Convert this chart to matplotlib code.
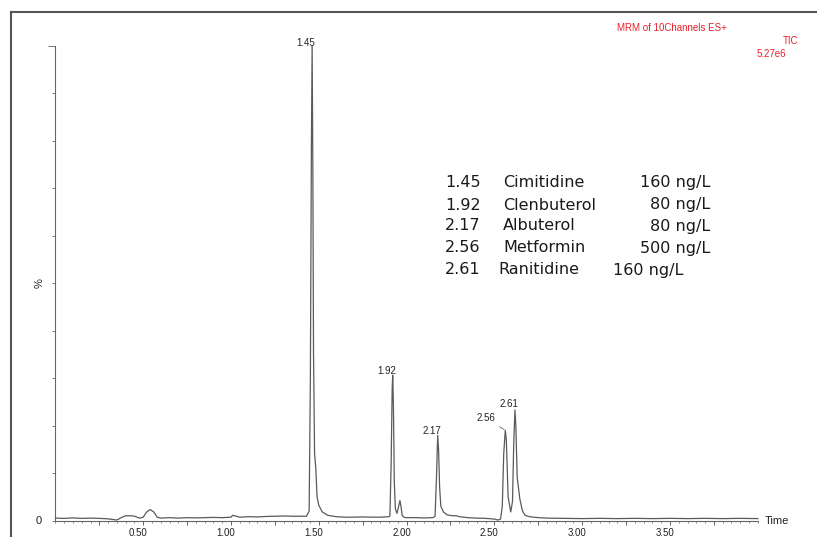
import matplotlib
matplotlib.use("Agg")
import matplotlib.pyplot as plt
import matplotlib.transforms as mtransforms
from matplotlib.lines import Line2D
from matplotlib.ticker import FixedLocator, MultipleLocator

# --- chromatogram trace (time in min, intensity in %) ---
time_min = [
    0.00, 0.05, 0.10, 0.15, 0.20, 0.25, 0.30, 0.35, 0.38, 0.40, 0.43, 0.45,
    0.48, 0.50, 0.52, 0.54, 0.56, 0.58, 0.60, 0.65, 0.70, 0.75, 0.80, 0.85,
    0.90, 0.95, 1.00, 1.01, 1.03, 1.05, 1.10, 1.15, 1.20, 1.25, 1.30, 1.35,
    1.40, 1.43, 1.445, 1.452, 1.458, 1.462, 1.466, 1.470, 1.476, 1.483, 1.49,
    1.50, 1.52, 1.55, 1.60, 1.65, 1.70, 1.75, 1.80, 1.85, 1.90, 1.905, 1.912,
    1.918, 1.921, 1.925, 1.930, 1.936, 1.945, 1.955, 1.962, 1.968, 1.975,
    1.99, 2.05, 2.10, 2.15, 2.162, 2.170, 2.177, 2.182, 2.188, 2.195, 2.21,
    2.23, 2.26, 2.285, 2.30, 2.35, 2.40, 2.45, 2.50, 2.52, 2.535, 2.545,
    2.553, 2.562, 2.568, 2.578, 2.593, 2.603, 2.610, 2.617, 2.622, 2.630,
    2.645, 2.66, 2.675, 2.70, 2.75, 2.80, 2.90, 3.00, 3.10, 3.20, 3.30, 3.40,
    3.50, 3.60, 3.70, 3.80, 3.90, 4.00,
]
intensity_pct = [
    0.5, 0.45, 0.55, 0.45, 0.5, 0.45, 0.35, 0.1, 0.7, 1.0, 1.0, 0.9,
    0.5, 0.7, 1.8, 2.3, 1.8, 0.7, 0.5, 0.6, 0.5, 0.6, 0.55, 0.6,
    0.65, 0.6, 0.7, 1.1, 0.9, 0.7, 0.8, 0.75, 0.85, 0.9, 0.95, 0.9,
    0.9, 0.9, 2.0, 30, 80, 100, 75, 35, 14, 11, 5,
    3.2, 1.8, 1.1, 0.8, 0.7, 0.7, 0.75, 0.7, 0.7, 0.8, 1.0, 12,
    28, 30.6, 24, 8, 2.5, 1.5, 3.0, 4.2, 3.0, 1.0,
    0.6, 0.6, 0.55, 0.6, 0.9, 9, 17.9, 15, 7, 3, 1.8,
    1.2, 1.0, 1.0, 0.8, 0.6, 0.5, 0.45, 0.3, 0.1, 0.3, 3,
    14, 19, 17, 5, 1.8, 4, 16, 23.3, 20, 9,
    4.5, 2.0, 1.1, 0.8, 0.6, 0.5, 0.45, 0.4, 0.45, 0.4, 0.45, 0.4,
    0.45, 0.4, 0.45, 0.4, 0.45, 0.4,
]

# --- peak labels ---
peak_rt = [1.462, 1.921, 2.177, 2.562, 2.617]
peak_height = [100, 30.6, 17.9, 19, 23.3]
peak_text = ["1.45", "1.92", "2.17", "2.56", "2.61"]

# --- compound table ---
table_rt = ["1.45", "1.92", "2.17", "2.56", "2.61"]
table_name = ["Cimitidine", "Clenbuterol", "Albuterol", "Metformin", "Ranitidine"]
table_conc = ["160 ng/L", "80 ng/L", "80 ng/L", "500 ng/L", "160 ng/L"]

# --- axis ticks ---
xtick_pos = [0.25, 0.50, 0.75, 1.00, 1.25, 1.50, 1.75, 2.00, 2.25, 2.50,
             2.75, 3.00, 3.25, 3.50, 3.75]
xtick_lab = ["", "0.50", "", "1.00", "", "1.50", "", "2.00", "", "2.50",
             "", "3.00", "", "3.50", ""]

W, H = 817, 537
fig = plt.figure(figsize=(W / 100, H / 100), dpi=100)
fig.patch.set_facecolor("white")

x0, x1 = 55.4, 757.8
y0, y1 = 520.5, 45.7
ax = fig.add_axes([x0 / W, 1 - y0 / H, (x1 - x0) / W, (y0 - y1) / H])

line_col = "#5a5a5a"
ax.plot(time_min, intensity_pct, color=line_col, lw=0.9, clip_on=False)

ax.set_xlim(0, 4.0)
ax.set_ylim(0, 100)
for s in ["top", "right"]:
    ax.spines[s].set_visible(False)
for s in ["left", "bottom"]:
    ax.spines[s].set_color("#666666")
    ax.spines[s].set_linewidth(0.8)

# x ticks
ax.xaxis.set_major_locator(FixedLocator(xtick_pos))
ax.set_xticklabels(xtick_lab)
ax.xaxis.set_minor_locator(MultipleLocator(0.05))
ax.tick_params(axis="x", which="major", direction="out", length=3.0, width=0.7,
               color="#666666", labelsize=7, pad=2.5, labelcolor="#222222")
ax.tick_params(axis="x", which="minor", direction="out", length=1.5, width=0.6,
               color="#777777")
shift = mtransforms.ScaledTranslation(-5 / 100, 0, fig.dpi_scale_trans)
for lab in ax.get_xticklabels():
    lab.set_transform(lab.get_transform() + shift)
    lab.set_fontfamily("Liberation Sans")

# y ticks
ax.set_yticks(list(range(0, 101, 10)))
ax.set_yticklabels(["0"] + [""] * 10)
ax.tick_params(axis="y", direction="out", length=2.5, width=0.7,
               color="#777777", labelsize=8, pad=7, labelcolor="#222222")
ax.yaxis.get_major_ticks()[-1].tick1line.set_markersize(5)
for lab in ax.get_yticklabels():
    lab.set_fontfamily("Liberation Sans")

ax.text(-0.022, 0.5, "%", transform=ax.transAxes, rotation=90, ha="center",
        va="center", fontsize=8, family="Liberation Sans", color="#222222")
ax.text(1.010, 0.0, "Time", transform=ax.transAxes, ha="left", va="center",
        fontsize=8, family="Liberation Sans", color="#222222")

# peak labels (offsets in points)
label_offset = [(-4.3, 2.2), (-4.3, 3.0), (-4.3, 3.0), (-13.7, 8.6), (-4.3, 4.3)]
for rt, ht, txt, off in zip(peak_rt, peak_height, peak_text, label_offset):
    if txt == "2.56":
        ax.annotate(txt, xy=(rt, ht), xytext=off, textcoords="offset points",
                    ha="center", va="center", fontsize=7,
                    family="Liberation Sans", color="#222222",
                    arrowprops=dict(arrowstyle="-", color="#666666", lw=0.6,
                                    shrinkA=1, shrinkB=1))
    else:
        ax.annotate(txt, xy=(rt, ht), xytext=off, textcoords="offset points",
                    ha="center", va="center", fontsize=7,
                    family="Liberation Sans", color="#222222")

# compound table (figure pixel layout)
row_y = [183, 205, 226, 248, 270]
name_x = [503, 503, 503, 503, 498]
conc_x = [710, 710, 710, 710, 683]
for i in range(len(table_rt)):
    yy = 1 - row_y[i] / H
    fig.text(445 / W, yy, table_rt[i], ha="left", va="center", fontsize=11.5,
             family="DejaVu Sans", color="#1a1a1a")
    fig.text(name_x[i] / W, yy, table_name[i], ha="left", va="center",
             fontsize=11.5, family="DejaVu Sans", color="#1a1a1a")
    fig.text(conc_x[i] / W, yy, table_conc[i], ha="right", va="center",
             fontsize=11.5, family="DejaVu Sans", color="#1a1a1a")

# red header
red = "#e8202a"
fig.text(672 / W, 1 - 28 / H, "MRM of 10Channels ES+", ha="center", va="center",
         fontsize=7, family="Liberation Sans", color=red)
fig.text(798 / W, 1 - 41 / H, "TIC", ha="right", va="center", fontsize=7,
         family="Liberation Sans", color=red)
fig.text(786 / W, 1 - 54 / H, "5.27e6", ha="right", va="center", fontsize=7,
         family="Liberation Sans", color=red)

# outer frame (left and top edges)
fig.add_artist(Line2D([11 / W, 11 / W], [0, 1 - 12 / H], transform=fig.transFigure,
                      color="#555555", lw=1.5))
fig.add_artist(Line2D([11 / W, 1], [1 - 12 / H, 1 - 12 / H], transform=fig.transFigure,
                      color="#555555", lw=1.5))

fig.savefig("out.png", dpi=100, facecolor="white")
